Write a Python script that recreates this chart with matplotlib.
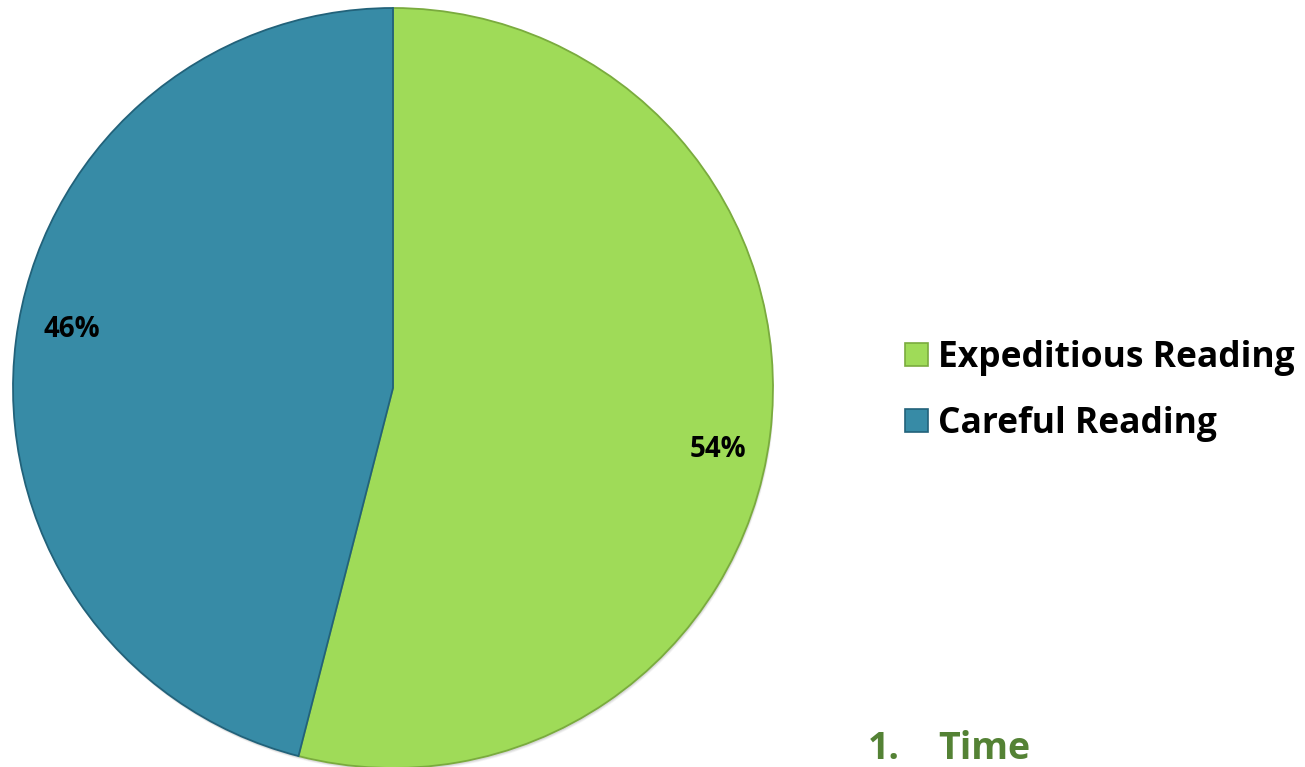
import matplotlib.pyplot as plt
from matplotlib.patches import Patch, Circle

plt.rcParams['font.family'] = ['Open Sans', 'DejaVu Sans']

labels = ['Expeditious Reading', 'Careful Reading']
shares = [54, 46]
colors = ['#9fdb58', '#378ba6']
edges = ['#7aab3e', '#22627a']

W, H = 1305, 767
fig = plt.figure(figsize=(W / 100, H / 100), dpi=100)

# pie sits on the left, radius ~380 px
cx, cy, r = 393, 388, 380
ax = fig.add_axes([(cx - r) / W, (H - cy - r) / H, 2 * r / W, 2 * r / H])

# soft drop shadow under the pie
for k, a in enumerate([0.10, 0.08, 0.06]):
    ax.add_patch(Circle((0.002 + 0.001 * k, -0.005 - 0.002 * k), 1.0, color='#555555',
                        alpha=a, zorder=0, linewidth=0))

wedges, _, autotexts = ax.pie(shares, colors=colors, startangle=90, counterclock=False,
                              autopct='%d%%', pctdistance=0.86, radius=1.0,
                              wedgeprops=dict(linewidth=1.3, zorder=2))
for w, ec in zip(wedges, edges):
    w.set_edgecolor(ec)

# label spots for each slice (relative to the pie centre)
label_pos = [(0.855, -0.163), (-0.845, 0.153)]
for t, p in zip(autotexts, label_pos):
    t.set_position(p)
    t.set_fontsize(20)
    t.set_fontweight('bold')
    t.set_color('black')
    t.set_zorder(3)
ax.set_xlim(-1, 1)
ax.set_ylim(-1, 1)
ax.set_aspect('equal')
ax.axis('off')

handles = [Patch(facecolor=c, edgecolor=e, linewidth=1.2) for c, e in zip(colors, edges)]
leg = fig.legend(handles, labels, loc='center left', bbox_to_anchor=(905 / W, 1 - 391 / H),
                 frameon=False, prop=dict(weight='bold', size=25.5),
                 borderpad=0, borderaxespad=0,
                 handlelength=0.65, handleheight=0.65, handletextpad=0.28, labelspacing=0.85)

fig.text(868 / W, 1 - 768 / H, '1.', color='#548235', fontsize=27, fontweight='bold', va='bottom')
fig.text(938 / W, 1 - 768 / H, 'Time', color='#548235', fontsize=27, fontweight='bold', va='bottom')

fig.savefig('out.png', dpi=100)
plt.close('all')
